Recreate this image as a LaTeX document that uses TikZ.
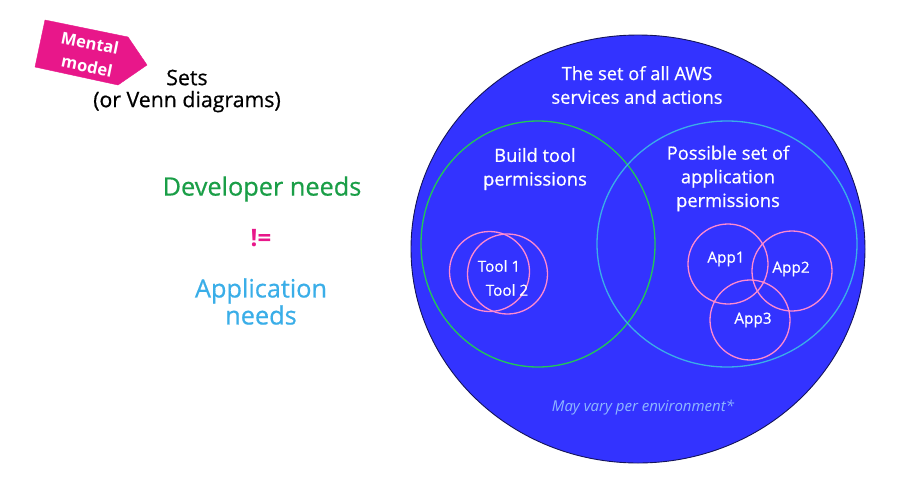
\documentclass[tikz,border=0pt]{standalone}
\usepackage{fontspec}
\setmainfont{Open Sans}
\newfontfamily\medfont{Open Sans}[FakeBold=0.6]
\usetikzlibrary{shapes.geometric}
\definecolor{bigfill}{HTML}{3333FF}
\definecolor{bigline}{HTML}{14145A}
\definecolor{greenset}{HTML}{22C955}
\definecolor{blueset}{HTML}{3AAEE8}
\definecolor{pinkset}{HTML}{FF8ACF}
\definecolor{magenta}{HTML}{E8178A}
\definecolor{devgreen}{HTML}{1A9E47}
\definecolor{appblue}{HTML}{3AAEE8}
\definecolor{notecol}{HTML}{8FB8FF}
\tikzset{
  setshape/.style={ellipse, inner sep=0pt, line width=1.3pt},
  wtext/.style={text=white, align=center, font=\medfont\fontsize{18.3}{23.7}\selectfont},
  smalltext/.style={text=white, align=center, font=\medfont\fontsize{15.3}{18}\selectfont},
  tagtext/.style={text=white, rotate=-11.6, inner sep=0pt, font=\fontsize{16.5}{18}\selectfont\bfseries},
}
\begin{document}
\begin{tikzpicture}[x=1pt,y=-1pt]
\useasboundingbox (0,0) rectangle (905,501);
% big set
\node[setshape, draw=bigline, fill=bigfill, line width=0.9pt, minimum width=454pt, minimum height=428pt] (all) at (638,249) {};
\node[setshape, draw=greenset, minimum width=234pt, minimum height=246pt] (build) at (538,244) {};
\node[setshape, draw=blueset, minimum width=260pt, minimum height=246pt] (appset) at (727,244) {};
% small circles
\node[setshape, draw=pinkset, circle, minimum size=80pt] (t1c) at (489.5,271.5) {};
\node[setshape, draw=pinkset, circle, minimum size=80pt] (t2c) at (507.5,274) {};
\node[setshape, draw=pinkset, circle, minimum size=80pt] (a1c) at (728,264) {};
\node[setshape, draw=pinkset, circle, minimum size=80pt] (a2c) at (792,271) {};
\node[setshape, draw=pinkset, circle, minimum size=80pt] (a3c) at (750,320) {};
% texts in circles
\node[wtext] (alltxt) at (637,85) {The set of all AWS\\services and actions};
\node[wtext] (buildtxt) at (535,169) {Build tool\\permissions};
\node[wtext] (apptxt) at (728,178.5) {Possible set of\\application\\permissions};
\node[smalltext] (t1) at (499,266) {Tool 1};
\node[smalltext] (t2) at (507,290) {Tool 2};
\node[smalltext] (a1) at (726,259) {App1};
\node[smalltext] (a2) at (791,269) {App2};
\node[smalltext] (a3) at (753,320) {App3};
\node[text=notecol, font=\fontsize{15}{18}\selectfont\itshape] (note) at (643,408) {May vary per environment*};
% left side
\node[text=devgreen, font=\medfont\fontsize{25.3}{27}\selectfont] (dev) at (262,189) {Developer needs};
\node[text=magenta, font=\fontsize{24}{27}\selectfont\bfseries] (neq) at (261,238) {!=};
\node[text=appblue, align=center, font=\medfont\fontsize{25.3}{27}\selectfont] (appneeds) at (261,301.5) {Application\\needs};
% mental model tag
\filldraw[magenta] (45,20) -- (128,37) -- (147,65) -- (118,85) -- (35,67) -- cycle;
\node[tagtext] (mm1) at (90,43) {Mental};
\node[tagtext] (mm2) at (87,66) {model};
\node[align=center, font=\medfont\fontsize{21.3}{22}\selectfont] (sets) at (187,91) {Sets\\(or Venn diagrams)};
\end{tikzpicture}
\end{document}
